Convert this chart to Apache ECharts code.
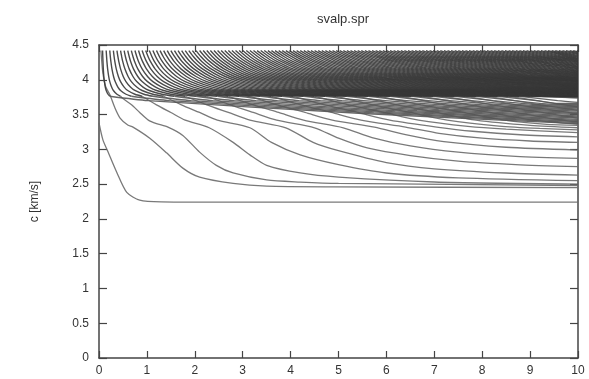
<!DOCTYPE html>
<html>
<head>
<meta charset="utf-8">
<script src="https://cdn.jsdelivr.net/npm/echarts@6/dist/echarts.min.js"></script>
<style>
html,body{margin:0;padding:0;background:#fff;}
#chart{width:589px;height:379px;}
</style>
</head>
<body>
<div id="chart"></div>
<script>
// Chart text
const chartTitle = 'svalp.spr';
const yAxisName = 'c [km/s]';
const xRange = [0, 10];
const yRange = [0, 4.5];

// Fundamental mode and first higher mode ([x, c])
const mode0 = [[0,3.38],[0.08,3.14],[0.19,2.96],[0.37,2.67],[0.58,2.38],[0.85,2.27],[1.3,2.245],[3,2.24],[10,2.24]];
const mode1 = [[0.04,4.42],[0.08,4.1],[0.14,3.9],[0.23,3.78],[0.33,3.6],[0.44,3.45],[0.6,3.35],[0.71,3.32],[1.06,3.16],[1.41,2.95],[1.75,2.73],[2.1,2.6],[2.8,2.51],[3.5,2.47],[4.9,2.46],[10,2.45]];

// Velocity levels (km/s) at which the upper branch of each mode is read
const upperLevels = [4.42, 4.335, 4.264, 4.157, 4.047, 3.974, 3.895, 3.846, 3.792, 3.763];

// Modes that go down through the 3.35-3.7 band: x at the upper levels ...
const midUpperX = [
  [0.15,0.158,0.165,0.18,0.203,0.225,0.263,0.30,0.375,0.45],
  [0.30,0.315,0.33,0.36,0.405,0.45,0.525,0.60,0.75,0.90],
  [0.45,0.473,0.495,0.54,0.608,0.675,0.788,0.90,1.125,1.35],
  [0.60,0.63,0.66,0.72,0.81,0.90,1.05,1.20,1.50,1.80],
  [0.75,0.788,0.825,0.90,1.013,1.125,1.313,1.50,1.875,2.25],
  [0.90,0.945,0.99,1.08,1.215,1.35,1.575,1.80,2.25,2.70],
  [1.05,1.103,1.155,1.26,1.418,1.575,1.838,2.10,2.625,3.15],
  [1.20,1.26,1.32,1.44,1.62,1.80,2.10,2.40,3.00,3.60],
  [1.35,1.418,1.485,1.62,1.823,2.025,2.363,2.70,3.375,4.05],
  [1.50,1.575,1.65,1.80,2.025,2.25,2.625,3.00,3.75,4.50],
  [1.65,1.733,1.815,1.98,2.228,2.475,2.888,3.30,4.125,4.95],
  [1.80,1.89,1.98,2.16,2.43,2.70,3.15,3.60,4.50,5.40],
  [1.95,2.048,2.145,2.34,2.633,2.925,3.413,3.90,4.875,5.85],
  [2.10,2.205,2.31,2.52,2.835,3.15,3.675,4.20,5.25,6.30],
  [2.25,2.363,2.475,2.70,3.038,3.375,3.938,4.50,5.625,6.75],
  [2.40,2.52,2.64,2.88,3.24,3.60,4.20,4.80,6.00,7.20],
  [2.55,2.678,2.805,3.06,3.443,3.825,4.463,5.10,6.375,7.65],
  [2.70,2.835,2.97,3.24,3.645,4.05,4.725,5.40,6.75,8.10],
  [2.85,2.993,3.135,3.42,3.848,4.275,4.988,5.70,7.125,8.55],
  [3.00,3.15,3.30,3.60,4.05,4.50,5.25,6.00,7.50,9.00]
];
// ... and the rest of each of those modes ([x, c])
const midTails = [
  [[0.5,3.73],[0.68,3.64],[0.85,3.53],[1.03,3.42],[1.2,3.37],[1.44,3.32],[1.75,3.2],[2.1,2.96],[2.45,2.77],[2.8,2.66],[3.5,2.56],[4.2,2.53],[5,2.51],[10,2.48]],
  [[1.2,3.64],[1.5,3.53],[1.8,3.42],[2.3,3.31],[2.8,3.1],[3.15,2.92],[3.5,2.77],[4.2,2.66],[5,2.6],[7,2.53],[10,2.5]],
  [[1.72,3.64],[2.1,3.53],[2.47,3.42],[3.15,3.31],[3.6,3.1],[4.2,2.92],[5,2.78],[6,2.66],[7.5,2.59],[10,2.55]],
  [[2.25,3.64],[2.7,3.53],[3.15,3.42],[3.9,3.31],[4.47,3.1],[5,2.98],[6,2.81],[7,2.72],[8.5,2.66],[10,2.63]],
  [[2.74,3.64],[3.22,3.53],[3.71,3.42],[4.5,3.31],[5,3.16],[5.6,3.02],[6.5,2.91],[7.5,2.83],[8.7,2.78],[10,2.75]],
  [[3.22,3.64],[3.75,3.53],[4.27,3.42],[5.1,3.31],[5.7,3.17],[6.5,3.05],[7.5,2.96],[8.7,2.9],[10,2.87]],
  [[3.72,3.64],[4.3,3.53],[4.87,3.42],[5.75,3.32],[6.4,3.21],[7.2,3.11],[8.5,3.03],[10,2.99]],
  [[4.22,3.64],[4.85,3.53],[5.47,3.42],[6.4,3.32],[7.1,3.23],[8,3.16],[9,3.12],[10,3.1]],
  [[4.72,3.64],[5.4,3.53],[6.07,3.42],[7.05,3.32],[7.8,3.26],[8.8,3.21],[10,3.18]],
  [[5.22,3.64],[5.95,3.53],[6.67,3.42],[7.7,3.33],[8.5,3.29],[10,3.24]],
  [[5.72,3.64],[6.5,3.53],[7.27,3.42],[8.35,3.335],[9.2,3.3],[10,3.28]],
  [[6.22,3.64],[7.05,3.53],[7.87,3.42],[9.0,3.345],[10,3.31]],
  [[6.72,3.64],[7.6,3.53],[8.47,3.42],[9.35,3.36],[10,3.345]],
  [[7.22,3.64],[8.15,3.53],[9.07,3.42],[10,3.36]],
  [[7.72,3.64],[8.7,3.53],[9.67,3.42],[10,3.4]],
  [[8.22,3.64],[9.25,3.53],[10,3.45]],
  [[8.72,3.64],[9.8,3.53],[10,3.51]],
  [[9.22,3.64],[10,3.56]],
  [[9.72,3.64],[10,3.61]],
  [[10,3.74]]
];

// Modes that settle inside the 3.35-3.7 band: x at the upper levels ...
const bandUpperX = [
  [0.075,0.079,0.083,0.09,0.101,0.113,0.131,0.15,0.188,0.225],
  [0.225,0.236,0.248,0.27,0.304,0.338,0.394,0.45,0.563,0.675],
  [0.375,0.394,0.413,0.45,0.506,0.563,0.656,0.75,0.938,1.125],
  [0.525,0.551,0.578,0.63,0.709,0.788,0.919,1.05,1.313,1.575],
  [0.675,0.709,0.743,0.81,0.911,1.013,1.181,1.35,1.688,2.025],
  [0.825,0.866,0.908,0.99,1.114,1.238,1.444,1.65,2.063,2.475],
  [0.975,1.024,1.073,1.17,1.316,1.463,1.706,1.95,2.438,2.925],
  [1.125,1.181,1.238,1.35,1.519,1.688,1.969,2.25,2.813,3.375],
  [1.275,1.339,1.403,1.53,1.721,1.913,2.231,2.55,3.188,3.825],
  [1.425,1.496,1.568,1.71,1.924,2.138,2.494,2.85,3.563,4.275],
  [1.575,1.654,1.733,1.89,2.126,2.363,2.756,3.15,3.938,4.725],
  [1.725,1.811,1.898,2.07,2.329,2.588,3.019,3.45,4.313,5.175],
  [1.875,1.969,2.063,2.25,2.531,2.813,3.281,3.75,4.688,5.625],
  [2.025,2.126,2.228,2.43,2.734,3.038,3.544,4.05,5.063,6.075],
  [2.175,2.284,2.393,2.61,2.936,3.263,3.806,4.35,5.438,6.525],
  [2.325,2.441,2.558,2.79,3.139,3.488,4.069,4.65,5.813,6.975],
  [2.475,2.599,2.723,2.97,3.341,3.713,4.331,4.95,6.188,7.425],
  [2.625,2.756,2.888,3.15,3.544,3.938,4.594,5.25,6.563,7.875],
  [2.775,2.914,3.053,3.33,3.746,4.163,4.856,5.55,6.938,8.325],
  [2.925,3.071,3.218,3.51,3.949,4.388,5.119,5.85,7.313,8.775],
  [3.075,3.229,3.383,3.69,4.151,4.613,5.381,6.15,7.688,9.225]
];
// ... and their path inside the band ([x, c])
const bandTails = [
  [[1.025,3.7],[5.51,3.515],[10,3.37]],
  [[1.475,3.7],[5.74,3.523],[10,3.385]],
  [[1.925,3.7],[5.96,3.53],[10,3.4]],
  [[2.375,3.7],[6.19,3.538],[10,3.415]],
  [[2.825,3.7],[6.41,3.545],[10,3.43]],
  [[3.275,3.7],[6.64,3.555],[10,3.45]],
  [[3.725,3.7],[6.86,3.563],[10,3.465]],
  [[4.175,3.7],[7.09,3.57],[10,3.48]],
  [[4.625,3.7],[7.31,3.58],[10,3.5]],
  [[5.075,3.7],[7.54,3.588],[10,3.515]],
  [[5.525,3.7],[7.76,3.595],[10,3.53]],
  [[5.975,3.7],[7.99,3.605],[10,3.55]],
  [[6.425,3.7],[8.21,3.613],[10,3.565]],
  [[6.875,3.7],[8.44,3.62],[10,3.58]],
  [[7.325,3.7],[8.66,3.63],[10,3.6]],
  [[7.775,3.7],[8.89,3.638],[10,3.615]],
  [[8.225,3.7],[9.11,3.645],[10,3.63]],
  [[8.675,3.7],[9.34,3.653],[10,3.645]],
  [[9.125,3.7],[9.56,3.66],[10,3.66]],
  [[9.575,3.7],[10,3.675]],
  [[10,3.74]]
];

// Modes still above 3.7 km/s at x = 10: x at the upper levels ...
const topModesX = [
  [3.15,3.31,3.47,3.78,4.25,4.73,5.51,6.30,7.88,9.45],
  [3.225,3.386,3.548,3.87,4.354,4.838,5.644,6.45,8.063,9.675],
  [3.30,3.47,3.63,3.96,4.46,4.95,5.78,6.60,8.25,9.90],
  [3.375,3.544,3.713,4.05,4.556,5.063,5.906,6.75,8.438],
  [3.45,3.62,3.80,4.14,4.66,5.18,6.04,6.90,8.63],
  [3.525,3.701,3.878,4.23,4.759,5.288,6.169,7.05,8.813],
  [3.60,3.78,3.96,4.32,4.86,5.40,6.30,7.20,9.00],
  [3.675,3.859,4.043,4.41,4.961,5.513,6.431,7.35,9.188],
  [3.75,3.94,4.13,4.50,5.06,5.63,6.56,7.50,9.38],
  [3.825,4.016,4.208,4.59,5.164,5.738,6.694,7.65,9.563],
  [3.90,4.10,4.29,4.68,5.27,5.85,6.83,7.80,9.75],
  [3.975,4.174,4.373,4.77,5.366,5.963,6.956,7.95,9.938],
  [4.05,4.25,4.46,4.86,5.47,6.08,7.09,8.10],
  [4.125,4.331,4.538,4.95,5.569,6.188,7.219,8.25],
  [4.20,4.41,4.62,5.04,5.67,6.30,7.35,8.40],
  [4.275,4.489,4.703,5.13,5.771,6.413,7.481,8.55],
  [4.35,4.57,4.79,5.22,5.87,6.53,7.61,8.70],
  [4.425,4.646,4.868,5.31,5.974,6.638,7.744,8.85],
  [4.50,4.73,4.95,5.40,6.08,6.75,7.88,9.00],
  [4.575,4.804,5.033,5.49,6.176,6.863,8.006,9.15],
  [4.65,4.88,5.12,5.58,6.28,6.98,8.14,9.30],
  [4.725,4.961,5.198,5.67,6.379,7.088,8.269,9.45],
  [4.80,5.04,5.28,5.76,6.48,7.20,8.40,9.60],
  [4.875,5.119,5.363,5.85,6.581,7.313,8.531,9.75],
  [4.95,5.20,5.45,5.94,6.68,7.43,8.66,9.90],
  [5.025,5.276,5.528,6.03,6.784,7.538,8.794],
  [5.10,5.36,5.61,6.12,6.89,7.65,8.93],
  [5.175,5.434,5.693,6.21,6.986,7.763,9.056],
  [5.25,5.51,5.78,6.30,7.09,7.88,9.19],
  [5.325,5.591,5.858,6.39,7.189,7.988,9.319],
  [5.40,5.67,5.94,6.48,7.29,8.10,9.45],
  [5.475,5.749,6.023,6.57,7.391,8.213,9.581],
  [5.55,5.83,6.11,6.66,7.49,8.33,9.71],
  [5.625,5.906,6.188,6.75,7.594,8.438,9.844],
  [5.70,5.99,6.27,6.84,7.70,8.55],
  [5.775,6.064,6.353,6.93,7.796,8.663],
  [5.85,6.14,6.44,7.02,7.90,8.78],
  [5.925,6.221,6.518,7.11,7.999,8.888],
  [6.00,6.30,6.60,7.20,8.10,9.00],
  [6.075,6.379,6.683,7.29,8.201,9.113],
  [6.15,6.46,6.77,7.38,8.30,9.23],
  [6.225,6.536,6.848,7.47,8.404,9.338],
  [6.30,6.62,6.93,7.56,8.51,9.45],
  [6.375,6.694,7.013,7.65,8.606,9.563],
  [6.45,6.77,7.10,7.74,8.71,9.68],
  [6.525,6.851,7.178,7.83,8.809,9.788],
  [6.60,6.93,7.26,7.92,8.91],
  [6.675,7.009,7.343,8.01,9.011],
  [6.75,7.09,7.43,8.10,9.11],
  [6.825,7.166,7.508,8.19,9.214],
  [6.90,7.25,7.59,8.28,9.32],
  [6.975,7.324,7.673,8.37,9.416],
  [7.05,7.40,7.76,8.46,9.52],
  [7.125,7.481,7.838,8.55,9.619],
  [7.20,7.56,7.92,8.64,9.72],
  [7.275,7.639,8.003,8.73,9.821],
  [7.35,7.72,8.09,8.82],
  [7.425,7.796,8.168,8.91],
  [7.50,7.88,8.25,9.00],
  [7.575,7.954,8.333,9.09],
  [7.65,8.03,8.42,9.18],
  [7.725,8.111,8.498,9.27],
  [7.80,8.19,8.58,9.36],
  [7.875,8.269,8.663,9.45],
  [7.95,8.35,8.75,9.54],
  [8.025,8.426,8.828,9.63],
  [8.10,8.51,8.91,9.72],
  [8.175,8.584,8.993,9.81],
  [8.25,8.66,9.08,9.90],
  [8.325,8.741,9.158],
  [8.40,8.82,9.24],
  [8.475,8.899,9.323],
  [8.55,8.98,9.41],
  [8.625,9.056,9.488],
  [8.70,9.14,9.57],
  [8.775,9.214,9.653],
  [8.85,9.29,9.74],
  [8.925,9.371,9.818],
  [9.00,9.45,9.90],
  [9.075,9.529],
  [9.15,9.61],
  [9.225,9.686],
  [9.30,9.77],
  [9.375,9.844],
  [9.45,9.92],
  [9.525],
  [9.60],
  [9.675],
  [9.75],
  [9.825],
  [9.90],
  [9.975]
];
// ... and their velocity at the right edge (x = 10)
const topModesEndC = [3.756,3.759,3.762,3.765,3.768,3.771,3.774,3.777,3.780,3.784,3.787,3.791,3.794,3.798,3.802,3.806,3.809,3.813,3.817,3.822,3.826,3.830,3.835,3.839,3.844,3.848,3.853,3.858,3.863,3.868,3.873,3.878,3.883,3.889,3.894,3.900,3.905,3.911,3.917,3.923,3.929,3.935,3.941,3.948,3.954,3.961,3.968,3.974,3.981,3.988,3.996,4.003,4.010,4.018,4.025,4.033,4.041,4.049,4.057,4.065,4.074,4.082,4.091,4.100,4.109,4.118,4.127,4.137,4.146,4.156,4.166,4.176,4.186,4.196,4.207,4.218,4.228,4.240,4.251,4.262,4.274,4.286,4.298,4.310,4.322,4.335,4.348,4.361,4.374,4.388,4.401,4.415];

const FONT = '"Liberation Sans", Arial, sans-serif';
const AX = '#444';
const chart = echarts.init(document.getElementById('chart'), null, {renderer: 'canvas'});

const STYLE_UPPER = {color: '#363636', width: 1.4, opacity: 0.9};
const STYLE_BAND = {color: '#555', width: 1.3, opacity: 0.9};
const STYLE_LOW = {color: '#6a6a6a', width: 1.3, opacity: 0.9};

function levelPoints(row) {
  return row.map(function (x, j) { return [x, upperLevels[j]]; });
}
const pieces = [];   // {data, style}
pieces.push({data: mode0, style: STYLE_LOW});
pieces.push({data: mode1, style: STYLE_LOW});
midUpperX.forEach(function (row, i) {
  const up = levelPoints(row);
  pieces.push({data: up, style: STYLE_UPPER});
  pieces.push({data: [up[up.length - 1]].concat(midTails[i]), style: STYLE_LOW});
});
bandUpperX.forEach(function (row, i) {
  const up = levelPoints(row);
  pieces.push({data: up, style: STYLE_UPPER});
  pieces.push({data: [up[up.length - 1]].concat(bandTails[i]), style: STYLE_BAND});
});
topModesX.forEach(function (row, i) {
  const pts = levelPoints(row);
  pts.push([10, topModesEndC[i]]);
  pieces.push({data: pts, style: STYLE_UPPER});
});

const series = pieces.map(function (p) {
  return {
    type: 'line', data: p.data, showSymbol: false, symbol: 'none',
    smooth: 0.25, silent: true, animation: false, lineStyle: p.style
  };
});

function xAx(pos, labels) {
  return {
    type: 'value', min: xRange[0], max: xRange[1], interval: 1, position: pos,
    axisLine: {show: true, onZero: false, lineStyle: {color: AX, width: 1.5}},
    axisTick: {show: true, inside: true, length: 7, lineStyle: {color: AX, width: 1.2}},
    axisLabel: {show: labels, color: '#333', fontSize: 12, fontFamily: FONT, margin: 7},
    splitLine: {show: false}
  };
}
function yAx(pos, labels) {
  const a = {
    type: 'value', min: yRange[0], max: yRange[1], interval: 0.5, position: pos,
    axisLine: {show: true, onZero: false, lineStyle: {color: AX, width: 1.5}},
    axisTick: {show: true, inside: true, length: 8, lineStyle: {color: AX, width: 1.2}},
    axisLabel: {show: labels, color: '#333', fontSize: 12, fontFamily: FONT, margin: 10},
    splitLine: {show: false}
  };
  if (labels) {
    a.name = yAxisName;
    a.nameLocation = 'middle';
    a.nameGap = 58;
    a.nameTextStyle = {color: '#333', fontSize: 12, fontFamily: FONT};
  }
  return a;
}

chart.setOption({
  animation: false,
  backgroundColor: '#fff',
  title: {text: chartTitle, left: 338, textAlign: 'center', top: 8,
    textStyle: {color: '#333', fontSize: 13, fontWeight: 'normal', fontFamily: FONT}},
  grid: {left: 99, right: 11, top: 45, bottom: 21, containLabel: false},
  xAxis: [xAx('bottom', true), xAx('top', false)],
  yAxis: [yAx('left', true), yAx('right', false)],
  series: series
});
</script>
</body>
</html>
